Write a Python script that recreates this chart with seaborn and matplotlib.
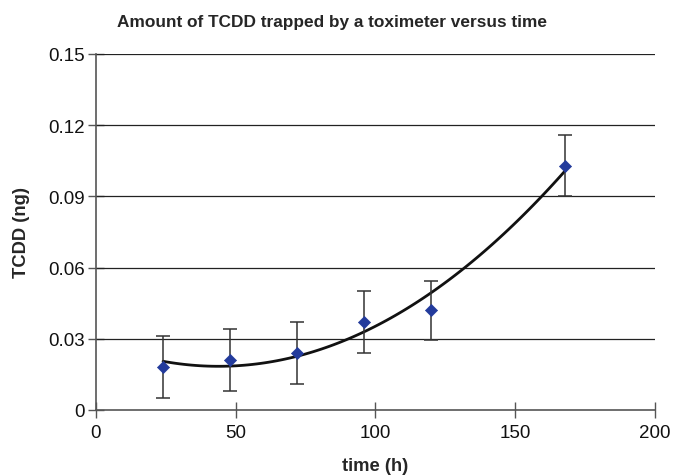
import numpy as np
import pandas as pd
import matplotlib
matplotlib.use("Agg")
import matplotlib.pyplot as plt
import seaborn as sns

# data
time_h = [24, 48, 72, 96, 120, 168]
tcdd_ng = [0.018, 0.021, 0.024, 0.037, 0.042, 0.103]
tcdd_err = [0.013, 0.013, 0.013, 0.013, 0.0125, 0.013]

x_ticks = [0, 50, 100, 150, 200]
y_ticks = [0, 0.03, 0.06, 0.09, 0.12, 0.15]
y_tick_labels = ["0", "0.03", "0.06", "0.09", "0.12", "0.15"]

df = pd.DataFrame({"time": time_h, "tcdd": tcdd_ng, "err": tcdd_err})

sns.set_style("white")
plt.rcParams["font.family"] = ["Liberation Sans", "DejaVu Sans"]

fig = plt.figure(figsize=(6.73, 4.77), dpi=100)
ax = fig.add_axes([0.1426, 0.1384, 0.8304, 0.7463])

# trend curve (polynomial fit)
sns.regplot(data=df, x="time", y="tcdd", order=2, ci=None, scatter=False,
            truncate=True, line_kws={"color": "#111111", "lw": 2.0}, ax=ax)

ax.errorbar(df["time"], df["tcdd"], yerr=df["err"], fmt="none",
            ecolor="#333333", elinewidth=1.1, capsize=5, capthick=1.1, zorder=3)
sns.scatterplot(data=df, x="time", y="tcdd", marker="D", s=38,
                color="#233b9c", edgecolor="#233b9c", zorder=4, ax=ax)

ax.set_xlim(0, 200)
ax.set_ylim(0, 0.15)
ax.set_xticks(x_ticks)
ax.set_yticks(y_ticks)
ax.set_yticklabels(y_tick_labels)
for yv in y_ticks[1:]:
    ax.axhline(yv, color="#222222", lw=0.9, zorder=1)

for s in ["top", "right"]:
    ax.spines[s].set_visible(False)
for s in ["left", "bottom"]:
    ax.spines[s].set_color("#555555")
    ax.spines[s].set_linewidth(1.2)

ax.tick_params(axis="both", direction="inout", length=12, width=1, color="#555555",
               labelsize=13.5, labelcolor="#111111", left=True, bottom=True)
ax.tick_params(axis="x", pad=4)
ax.tick_params(axis="y", pad=2)

ax.set_xlabel("time (h)", fontsize=13.2, fontweight="bold", va="center")
ax.xaxis.set_label_coords(0.5, -0.157)
ax.set_ylabel("TCDD (ng)", fontsize=13.2, fontweight="bold", va="center")
ax.yaxis.set_label_coords(-0.134, 0.5)
fig.suptitle("Amount of TCDD trapped by a toximeter versus time",
             fontsize=12.4, fontweight="bold", x=0.493, y=0.952, va="center")

fig.savefig("out.png", dpi=100)
